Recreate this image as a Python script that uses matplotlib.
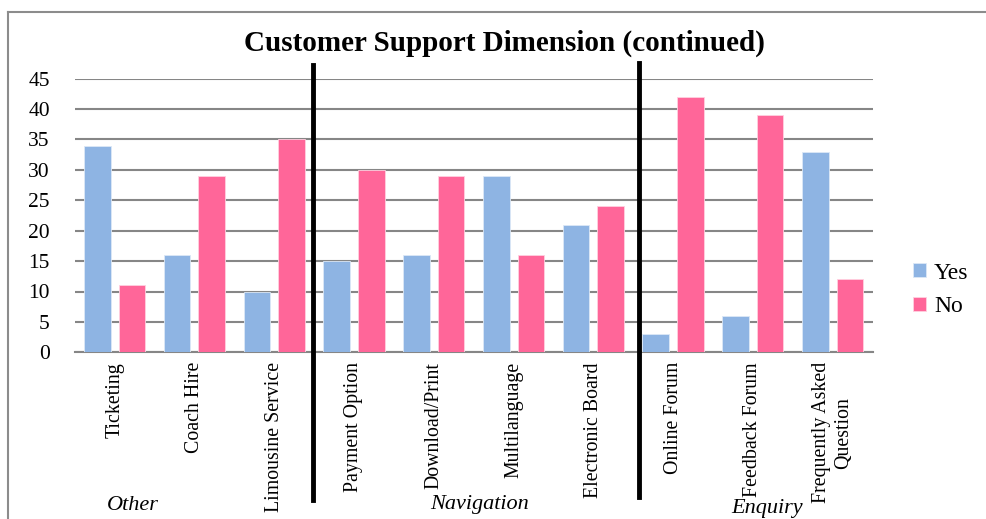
import matplotlib
matplotlib.use("Agg")
import matplotlib.pyplot as plt
import numpy as np
from matplotlib.lines import Line2D

categories = ["Ticketing", "Coach Hire", "Limousine Service", "Payment Option",
              "Download/Print", "Multilanguage", "Electronic Board", "Online Forum",
              "Feedback Forum", "Frequently Asked\nQuestion"]
yes_vals = [34, 16, 10, 15, 16, 29, 21, 3, 6, 33]
no_vals = [11, 29, 35, 30, 29, 16, 24, 42, 39, 12]
groups = ["Other", "Navigation", "Enquiry"]
group_sizes = [3, 4, 3]
yticks = list(range(0, 50, 5))

plt.rcParams['font.family'] = ['Liberation Serif', 'DejaVu Serif']

W, H = 986, 519
fig = plt.figure(figsize=(W / 100, H / 100), dpi=100)
ax = fig.add_axes([74.8 / W, (H - 352.3) / H, (872.5 - 74.8) / W, 273.6 / H])

x = np.arange(len(categories))
bw = 0.334
off = 0.217
ax.bar(x - off, yes_vals, bw, color='#8EB4E3', edgecolor='#DCE8F6', linewidth=0.6, label='Yes', zorder=3)
ax.bar(x + off, no_vals, bw, color='#FF6699', edgecolor='#FFD0E0', linewidth=0.6, label='No', zorder=3)

ax.set_xlim(-0.5, len(categories) - 0.5)
ax.set_ylim(0, 45)
ax.set_yticks(yticks)
ax.set_yticklabels([str(t) for t in yticks], fontsize=15.5)
ax.yaxis.grid(True, color='#868686', linewidth=1.5)
ax.set_axisbelow(True)
ax.tick_params(axis='y', length=0, pad=18)
ax.tick_params(axis='x', length=0, pad=7)
ax.set_xticks(x)
ax.set_xticklabels(categories, rotation=90, fontsize=14.3, va='top', ha='center', multialignment='center')
for s in ['top', 'right', 'left']:
    ax.spines[s].set_visible(False)
ax.spines['bottom'].set_color('#868686')
ax.spines['bottom'].set_linewidth(1.5)

# group separators
bounds = np.cumsum(group_sizes)[:-1] - 0.5
nudges = [-0.02, 0.07]
tops = [1.05, 1.058]
bots = [-0.54, -0.53]
for b, n, t, bt in zip(bounds, nudges, tops, bots):
    ax.add_line(Line2D([b + n, b + n], [bt, t], transform=ax.get_xaxis_transform(),
                       color='black', linewidth=3.5, clip_on=False, zorder=5))

# group labels
gpos = [(133, 506), (480, 505), (767, 509)]
for g, (gx, gy) in zip(groups, gpos):
    fig.text(gx / W, 1 - gy / H, g, style='italic', fontsize=16, ha='center', va='center')

# title
fig.text(504 / W, 1 - 43 / H, "Customer Support Dimension (continued)", fontsize=21,
         fontweight='bold', ha='center', va='center')

# legend
fig.legend(loc='center left', bbox_to_anchor=(901 / W, 1 - 290 / H), frameon=False,
           prop={'size': 17}, handlelength=0.55, handleheight=0.55, handletextpad=0.35,
           labelspacing=0.55, borderpad=0)

# outer frame
fig.add_artist(Line2D([8 / W, 1], [1 - 12 / H, 1 - 12 / H], transform=fig.transFigure,
                      color='#8C8C8C', linewidth=1.5))
fig.add_artist(Line2D([8 / W, 8 / W], [0, 1 - 12 / H], transform=fig.transFigure,
                      color='#8C8C8C', linewidth=1.5))

fig.savefig("out.png", dpi=100)
